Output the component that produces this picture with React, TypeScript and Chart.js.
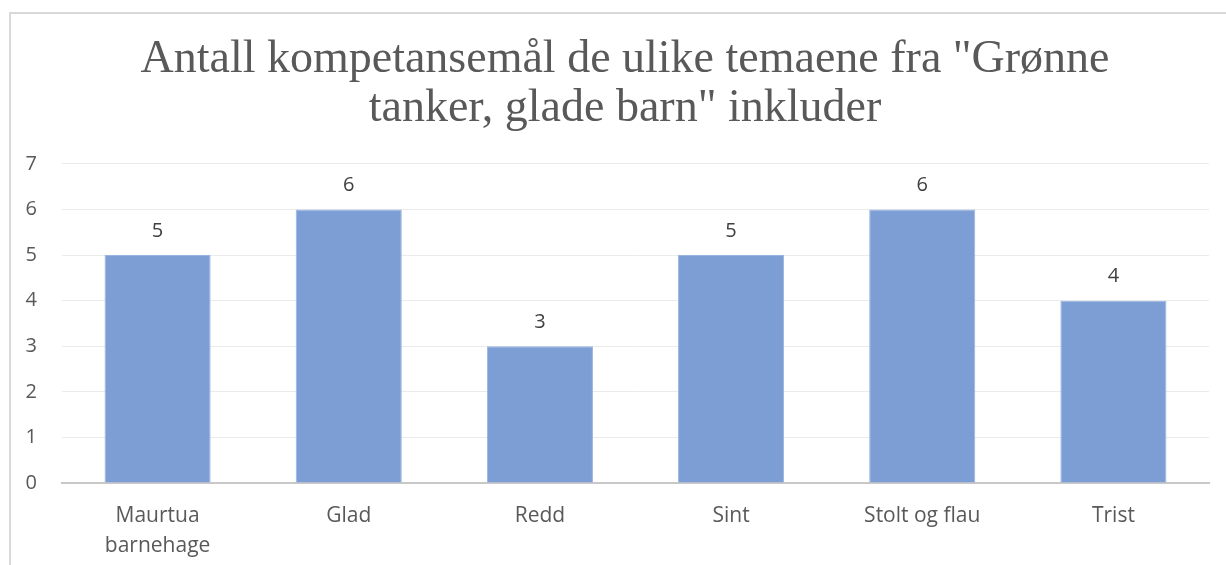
import React, { useEffect, useRef } from "react";
import { Chart, registerables } from "chart.js";

Chart.register(...registerables);

const categories: (string | string[])[] = [
  ["Maurtua", "barnehage"],
  "Glad",
  "Redd",
  "Sint",
  "Stolt og flau",
  "Trist",
];
const values: number[] = [5, 6, 3, 5, 6, 4];
const titleLines: string[] = [
  'Antall kompetansemål de ulike temaene fra "Grønne',
  'tanker, glade barn" inkluder',
];

const dataLabelPlugin = {
  id: "dataLabels",
  afterDatasetsDraw(chart: any) {
    const ctx = chart.ctx;
    const meta = chart.getDatasetMeta(0);
    ctx.save();
    ctx.font = "20px 'Open Sans'";
    ctx.fillStyle = "#404040";
    ctx.textAlign = "center";
    ctx.textBaseline = "middle";
    meta.data.forEach((bar: any, i: number) => {
      ctx.fillText(String(chart.data.datasets[0].data[i]), bar.x, bar.y - 24);
    });
    ctx.restore();
  },
};

export default function App() {
  const ref = useRef<HTMLCanvasElement | null>(null);
  useEffect(() => {
    document.body.style.margin = "0";
    const canvas = ref.current;
    if (!canvas) return;
    const chart = new Chart(canvas, {
      type: "bar",
      data: {
        labels: categories,
        datasets: [
          {
            data: values,
            backgroundColor: "#7c9ed5",
            borderColor: "#98b4e0",
            borderWidth: 1,
            barPercentage: 0.555,
            categoryPercentage: 1,
          },
        ],
      },
      options: {
        animation: false,
        responsive: false,
        maintainAspectRatio: false,
        layout: { padding: 0 },
        plugins: {
          legend: { display: false },
          tooltip: { enabled: false },
          title: {
            display: true,
            text: titleLines,
            color: "#595959",
            font: { family: "'Liberation Serif'", size: 46, weight: "normal", lineHeight: 1.07 },
            padding: { top: 35, bottom: 30.5 },
          },
        },
        scales: {
          x: {
            grid: { display: false },
            border: { display: true, color: "#c8c8c8", width: 2 },
            ticks: {
              color: "#595959",
              font: { family: "'Open Sans'", size: 21, lineHeight: 1.43 },
              padding: 10,
              maxRotation: 0,
              autoSkip: false,
            },
            afterFit(scale: any) {
              scale.height = 82;
            },
          },
          y: {
            min: 0,
            max: 7,
            grid: { color: "#ebebeb", lineWidth: 1, drawTicks: false },
            border: { display: false },
            ticks: {
              stepSize: 1,
              color: "#595959",
              font: { family: "'Open Sans'", size: 20 },
              padding: 25,
            },
            afterFit(scale: any) {
              scale.width = 62;
            },
          },
          yRight: {
            position: "right",
            display: true,
            grid: { display: false },
            border: { display: false },
            ticks: { display: false },
            afterFit(scale: any) {
              scale.width = 41;
            },
          },
        },
      },
      plugins: [dataLabelPlugin],
    });
    return () => chart.destroy();
  }, []);

  return (
    <div style={{ position: "relative", width: 1226, height: 565, overflow: "hidden", background: "#fff" }}>
      <div
        style={{
          position: "absolute",
          left: 9,
          top: 12,
          width: 1400,
          height: 800,
          border: "2px solid #d9d9d9",
          boxSizing: "border-box",
        }}
      />
      <canvas ref={ref} width={1250} height={565} style={{ position: "absolute", left: 0, top: 0, width: 1250, height: 565 }} />
    </div>
  );
}
